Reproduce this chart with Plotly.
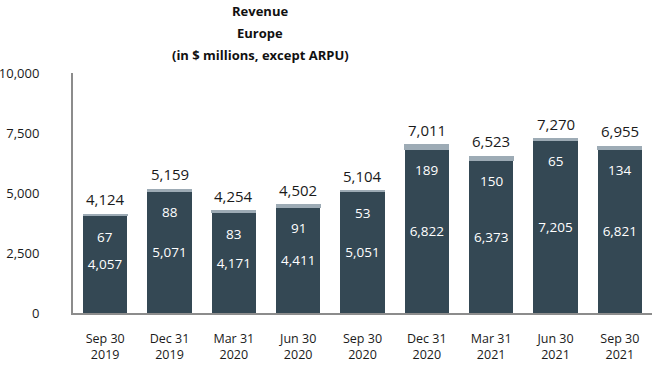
import plotly.graph_objects as go

quarters = ["Sep 30<br>2019", "Dec 31<br>2019", "Mar 31<br>2020", "Jun 30<br>2020",
            "Sep 30<br>2020", "Dec 31<br>2020", "Mar 31<br>2021", "Jun 30<br>2021", "Sep 30<br>2021"]
base_values = [4057, 5071, 4171, 4411, 5051, 6822, 6373, 7205, 6821]
cap_values = [67, 88, 83, 91, 53, 189, 150, 65, 134]
totals = [4124, 5159, 4254, 4502, 5104, 7011, 6523, 7270, 6955]
title_lines = ["Revenue", "Europe", "(in $ millions, except ARPU)"]
y_ticks = [0, 2500, 5000, 7500, 10000]

DARK = "#344854"
CAP = "#9dabb5"
FONT = "Open Sans"

fig = go.Figure()
fig.add_trace(go.Bar(
    x=quarters, y=base_values, marker=dict(color=DARK, line=dict(width=0)),
    text=[f"{v:,}" for v in base_values], textposition="inside", insidetextanchor="middle",
    textangle=0, textfont=dict(color="white", size=13.5, family=FONT), showlegend=False,
    hoverinfo="skip"))
fig.add_trace(go.Bar(
    x=quarters, y=cap_values, marker=dict(color=CAP, line=dict(color=CAP, width=1)),
    showlegend=False, hoverinfo="skip"))

annotations = []
for q, b, c, t in zip(quarters, base_values, cap_values, totals):
    annotations.append(dict(x=q, y=t, xref="x", yref="y", text=f"{t:,}", showarrow=False,
                            yanchor="bottom", yshift=3,
                            font=dict(size=15, color="#1a1a1a", family=FONT)))
    annotations.append(dict(x=q, y=b, xref="x", yref="y", text=f"{c:,}", showarrow=False,
                            yanchor="middle", yshift=-21,
                            font=dict(size=13.5, color="white", family=FONT)))

# title lines
plot_top, plot_bottom = 73, 313
for line, ypix in zip(title_lines, [11, 33, 55]):
    annotations.append(dict(x=(260 - 73) / 579, y=(plot_bottom - ypix) / (plot_bottom - plot_top),
                            xref="paper", yref="paper", text=f"<b>{line}</b>", showarrow=False,
                            xanchor="center", yanchor="middle",
                            font=dict(size=13, color="#111111", family=FONT)))

fig.update_layout(
    width=652, height=366,
    margin=dict(l=73, r=0, t=73, b=366 - 313, autoexpand=False),
    barmode="stack", bargap=0.315,
    plot_bgcolor="white", paper_bgcolor="white",
    font=dict(family=FONT, color="#1a1a1a"),
    annotations=annotations,
)
fig.update_xaxes(showline=True, linecolor="#8c8c8c", linewidth=2, showgrid=False,
                 ticks="", tickfont=dict(size=12.5, family=FONT, color="#1a1a1a"),
                 ticklabelstandoff=13, fixedrange=True, automargin=False)
fig.update_yaxes(range=[0, 10000], tickvals=y_ticks, tickformat=",", showline=True,
                 linecolor="#8c8c8c", linewidth=2, showgrid=False, zeroline=False,
                 ticks="", tickfont=dict(size=13, family=FONT, color="#1a1a1a"),
                 ticklabelstandoff=29, fixedrange=True, automargin=False)

fig.write_html("out.html", config={"displayModeBar": False},
               post_script="document.body.style.margin='0px';document.body.style.overflow='hidden';")
